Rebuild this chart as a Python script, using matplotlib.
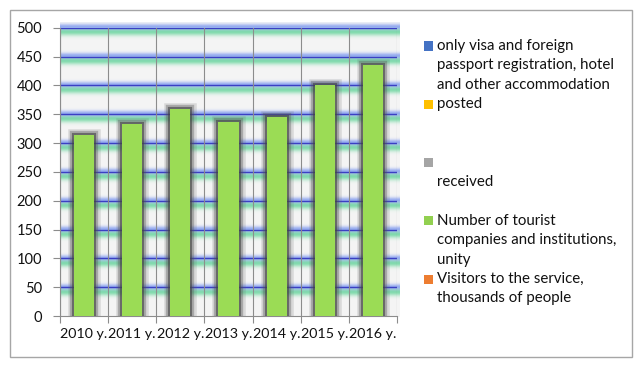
import numpy as np
import matplotlib
matplotlib.use('Agg')
import matplotlib.pyplot as plt
from matplotlib.patches import Rectangle
import matplotlib.patheffects as pe

categories = ["2010 y.", "2011 y.", "2012 y.", "2013 y.", "2014 y.", "2015 y.", "2016 y."]
values = [314, 333, 359, 337, 345, 400, 435]
y_ticks = [0, 50, 100, 150, 200, 250, 300, 350, 400, 450, 500]
legend_labels = [
    "only visa and foreign\npassport registration, hotel\nand other accommodation",
    "posted",
    "\nreceived",
    "Number of tourist\ncompanies and institutions,\nunity",
    "Visitors to the service,\nthousands of people",
]
legend_colors = ["#4472c4", "#ffc000", "#a5a5a5", "#92d050", "#ed7d31"]

plt.rcParams['font.family'] = ['Lato', 'DejaVu Sans']

W, H = 643, 368
fig = plt.figure(figsize=(W / 100, H / 100), dpi=100)
fig.patch.set_facecolor('white')

# outer border
fig.patches.append(Rectangle((10 / W, 1 - 357 / H), 622 / W, 347 / H,
                             transform=fig.transFigure, fill=False,
                             edgecolor='#a6a6a6', lw=1.0))

ax_h = 288.3
ax = fig.add_axes([60 / W, 1 - 316 / H, 337 / W, ax_h / H])
n = len(categories)
x = np.arange(n)
ax.set_xlim(-0.5, n - 0.5)
ax.set_ylim(0, 500)
ax.set_facecolor('none')

# background glow gradient
ppu = ax_h / 500.0
ys = np.linspace(-2, 508, 1600)
base = np.array([0.96, 0.96, 0.96])
green = np.array([0.42, 0.84, 0.62])
blue = np.array([0.52, 0.62, 0.94])
img = np.tile(base, (len(ys), 1))
wg = np.zeros(len(ys))
wb = np.zeros(len(ys))
for v in y_ticks[1:]:
    p = (v - ys) * ppu
    g = np.where(p > 0, np.exp(-((p - 5.0) / 3.8) ** 2), 0)
    b = np.exp(-(p / 2.8) ** 2)
    wg = np.maximum(wg, g)
    wb = np.maximum(wb, b)
img = img * (1 - wg[:, None] * 0.85) + green * (wg[:, None] * 0.85)
img = img * (1 - wb[:, None] * 0.85) + blue * (wb[:, None] * 0.85)
img = img[::-1][:, None, :]
ax.imshow(img, extent=[-0.5, n - 0.5 + 0.06, ys[0], ys[-1]], aspect='auto',
          zorder=0, clip_on=False, interpolation='bilinear')

for v in y_ticks[1:]:
    ax.axhline(v, color='#3b3fc4', lw=1.0, zorder=1)
for b in np.arange(-0.5, n, 1.0):
    ax.axvline(b, color='#8c8c8c', lw=0.8, zorder=1.5)

bars = ax.bar(x, values, width=0.42, color='#9bdc55', zorder=3)
for r in bars:
    r.set_path_effects([
        pe.Stroke(linewidth=9, foreground='#606060', alpha=0.18),
        pe.Stroke(linewidth=6, foreground='#505050', alpha=0.35),
        pe.Stroke(linewidth=3, foreground='#404040', alpha=0.6),
        pe.Normal(),
    ])

for s in ['top', 'right']:
    ax.spines[s].set_visible(False)
for s in ['left', 'bottom']:
    ax.spines[s].set_color('#8c8c8c')
    ax.spines[s].set_linewidth(0.8)
    ax.spines[s].set_zorder(2)

ax.set_yticks(y_ticks)
ax.set_yticklabels([str(t) for t in y_ticks], fontsize=10.5, color='#111111')
ax.tick_params(axis='y', length=5, width=0.8, color='#8c8c8c', pad=8)

ax.set_xticks(np.arange(-0.5, n, 1.0))
ax.set_xticklabels([])
ax.tick_params(axis='x', which='major', length=5, width=0.8, color='#8c8c8c')
ax.set_xticks(x, minor=True)
ax.set_xticklabels(categories, minor=True, fontsize=10.3, color='#111111')
ax.tick_params(axis='x', which='minor', length=0, pad=9)

# legend (manual layout)
y0 = 46.0
entry_step = 58.25
line_step = 19.4
for i, (lab, col) in enumerate(zip(legend_labels, legend_colors)):
    ey = y0 + entry_step * i
    fig.patches.append(Rectangle((424 / W, 1 - (ey + 4.5) / H), 9 / W, 9 / H,
                                 transform=fig.transFigure, facecolor=col,
                                 edgecolor='none'))
    for j, line in enumerate(lab.split('\n')):
        if line:
            fig.text(437 / W, 1 - (ey + j * line_step) / H, line, fontsize=10.8,
                     va='center', ha='left', color='#111111')

fig.savefig('out.png', dpi=100)
